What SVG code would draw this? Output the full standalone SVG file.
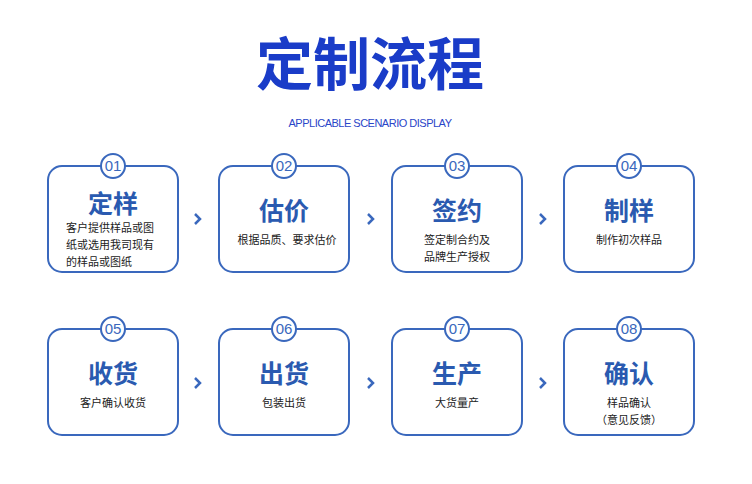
<svg xmlns="http://www.w3.org/2000/svg" width="752" height="484" viewBox="0 0 752 484">
<style>
.box{fill:#fff;stroke:#3a68bd;stroke-width:2}
.badge{fill:#fff;stroke:#3a68bd;stroke-width:2}
.num{font-family:"Liberation Sans",sans-serif;font-size:15px;fill:#3a68bd;text-anchor:middle}
.t{font-family:"Noto Sans CJK SC",sans-serif;font-weight:bold;font-size:25px;fill:#2a5ab0;text-anchor:middle}
.d{font-family:"Noto Sans CJK SC",sans-serif;font-size:11px;fill:#222;text-anchor:middle}
.dl{font-family:"Noto Sans CJK SC",sans-serif;font-size:11px;fill:#222}
.ar{fill:none;stroke:#3a68bd;stroke-width:2.5}
</style>
<rect width="752" height="484" fill="#fff"/>
<text x="370" y="85" font-family="Noto Sans CJK SC,sans-serif" font-weight="bold" font-size="57" fill="#1a3cc8" text-anchor="middle">定制流程</text>
<text x="370" y="127" font-family="Liberation Sans,sans-serif" font-size="11" fill="#2a45c8" text-anchor="middle" letter-spacing="-0.5">APPLICABLE SCENARIO DISPLAY</text>
<g id="n1"><rect class="box" x="48" y="166" width="130" height="106" rx="14"/><circle class="badge" cx="113" cy="166" r="12"/><text class="num" x="113" y="171">01</text><text class="t" x="113" y="213">定样</text><text class="dl" x="66" y="232">客户提供样品或图</text><text class="dl" x="66" y="249">纸或选用我司现有</text><text class="dl" x="66" y="266">的样品或图纸</text></g>
<g id="n2"><rect class="box" x="219" y="166" width="130" height="106" rx="14"/><circle class="badge" cx="284" cy="166" r="12"/><text class="num" x="284" y="171">02</text><text class="t" x="284" y="220">估价</text><text class="d" x="287" y="244">根据品质、要求估价</text></g>
<g id="n3"><rect class="box" x="392" y="166" width="130" height="106" rx="14"/><circle class="badge" cx="457" cy="166" r="12"/><text class="num" x="457" y="171">03</text><text class="t" x="457" y="220">签约</text><text class="d" x="457" y="244">签定制合约及</text><text class="d" x="457" y="261">品牌生产授权</text></g>
<g id="n4"><rect class="box" x="564" y="166" width="130" height="106" rx="14"/><circle class="badge" cx="629" cy="166" r="12"/><text class="num" x="629" y="171">04</text><text class="t" x="629" y="220">制样</text><text class="d" x="629" y="244">制作初次样品</text></g>
<g id="n5"><rect class="box" x="48" y="329" width="130" height="106" rx="14"/><circle class="badge" cx="113" cy="329" r="12"/><text class="num" x="113" y="334">05</text><text class="t" x="113" y="383">收货</text><text class="d" x="113" y="407">客户确认收货</text></g>
<g id="n6"><rect class="box" x="219" y="329" width="130" height="106" rx="14"/><circle class="badge" cx="284" cy="329" r="12"/><text class="num" x="284" y="334">06</text><text class="t" x="284" y="383">出货</text><text class="d" x="284" y="407">包装出货</text></g>
<g id="n7"><rect class="box" x="392" y="329" width="130" height="106" rx="14"/><circle class="badge" cx="457" cy="329" r="12"/><text class="num" x="457" y="334">07</text><text class="t" x="457" y="383">生产</text><text class="d" x="457" y="407">大货量产</text></g>
<g id="n8"><rect class="box" x="564" y="329" width="130" height="106" rx="14"/><circle class="badge" cx="629" cy="329" r="12"/><text class="num" x="629" y="334">08</text><text class="t" x="629" y="383">确认</text><text class="d" x="629" y="407">样品确认</text><text class="d" x="629" y="424">（意见反馈）</text></g>
<g id="connectors">
<path class="ar" d="M195 214l5 5-5 5M368 214l5 5-5 5M540 214l5 5-5 5M195 378l5 5-5 5M368 378l5 5-5 5M540 378l5 5-5 5"/>
</g>
</svg>
